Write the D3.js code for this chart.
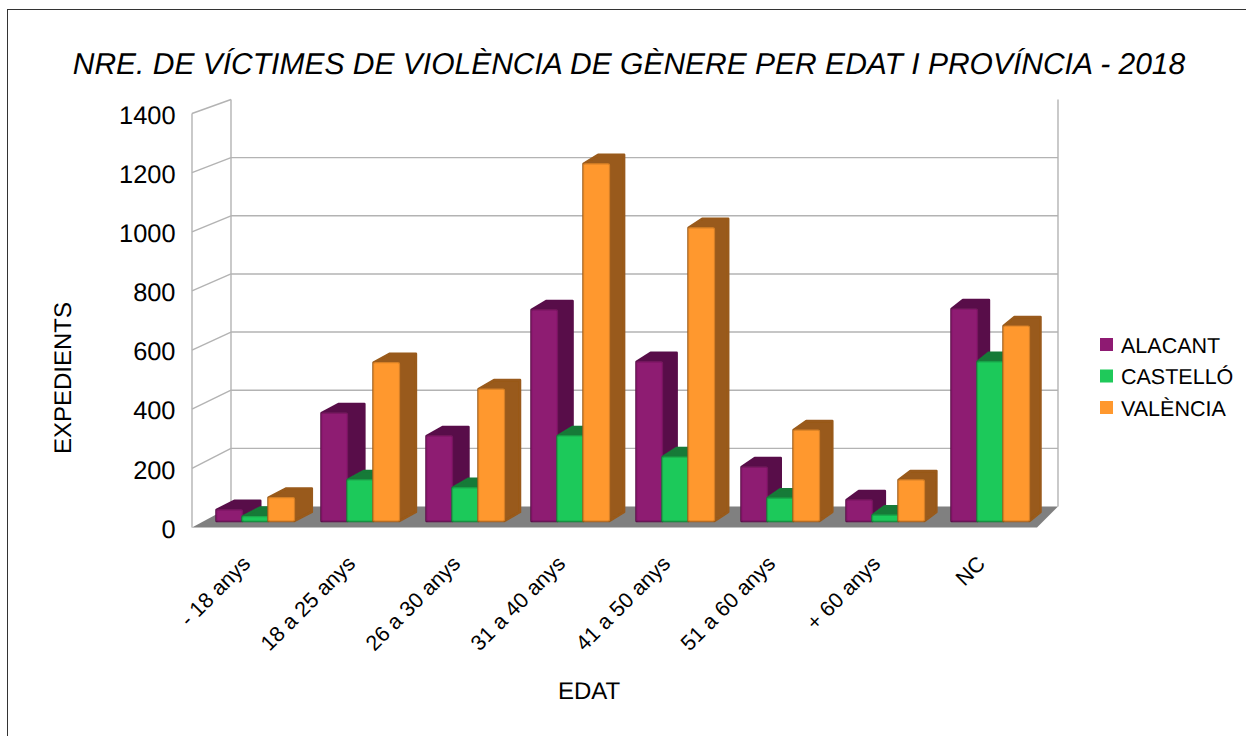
<!DOCTYPE html>
<html>
<head>
<meta charset="utf-8">
<script src="https://cdn.jsdelivr.net/npm/d3@7/dist/d3.min.js"></script>
<style>
  html, body { margin: 0; padding: 0; background: #fff; overflow: hidden; }
  text { font-family: "Liberation Sans", Arial, sans-serif; fill: #000; text-rendering: geometricPrecision; }
</style>
</head>
<body>
<div id="chart"></div>
<script>
const categories = ["- 18 anys", "18 a 25 anys", "26 a 30 anys", "31 a 40 anys", "41 a 50 anys", "51 a 60 anys", "+ 60 anys", "NC"];
const seriesNames = ["ALACANT", "CASTELLÓ", "VALÈNCIA"];
const alacant = [38, 368, 290, 720, 543, 184, 72, 723];
const castello = [15, 140, 113, 290, 218, 78, 20, 543];
const valencia = [80, 540, 450, 1218, 1000, 310, 140, 665];
const yTicks = [0, 200, 400, 600, 800, 1000, 1200, 1400];

const frontColors = ["#8e1a72", "#1fc95a", "#ff982e"];
const darkColors = ["#59114a", "#137a37", "#995a1a"];

const width = 1246;
const height = 736;
const seriesValues = [alacant, castello, valencia];

const svg = d3.select("#chart").append("svg")
    .attr("width", width)
    .attr("height", height)
    .style("display", "block");

const defs = svg.append("defs");
defs.append("filter").attr("id", "soft")
    .append("feGaussianBlur").attr("stdDeviation", 0.5);

// page frame
svg.append("rect")
    .attr("x", 7.5).attr("y", 9.5)
    .attr("width", width + 20).attr("height", height + 20)
    .attr("fill", "#fff").attr("stroke", "#333").attr("stroke-width", 1);

// scales: front edge of the box, back wall, and the plane the bars stand on
const yFront = d3.scaleLinear().domain([0, 1400]).range([527.5, 113.5]);
const yBack = d3.scaleLinear().domain([0, 1400]).range([506.5, 99.5]);
const yBar = d3.scaleLinear().domain([0, 1400]).range([521, 110.5]);

const x0 = d3.scaleBand().domain(categories).range([190.5, 1030.5]);
const x1 = d3.scaleBand().domain(seriesNames).range([26, 26 + 78]);
const depthX = d3.scaleLinear().domain([216, 1029]).range([18, 11]);
const depthY = 9;

const grid = svg.append("g").attr("fill", "none").attr("stroke", "#b3b3b3").attr("stroke-width", 1.4);

// floor
svg.append("path")
    .attr("d", "M192,527.5L231,506.5L1058,506.5L1037,527.5Z")
    .attr("fill", "#808080");

// back wall lines and side wall diagonals
grid.selectAll(".back")
    .data(yTicks.slice(1, -1))
    .enter().append("line")
    .attr("x1", 231).attr("x2", 1058)
    .attr("y1", d => yBack(d)).attr("y2", d => yBack(d));

grid.selectAll(".side")
    .data(yTicks.slice(1))
    .enter().append("line")
    .attr("x1", 192).attr("x2", 231)
    .attr("y1", d => yFront(d)).attr("y2", d => yBack(d));

grid.append("line").attr("x1", 192).attr("x2", 192).attr("y1", yFront(1400)).attr("y2", yFront(0));
grid.append("line").attr("x1", 231).attr("x2", 231).attr("y1", yBack(1400)).attr("y2", yBack(0));
grid.append("line").attr("x1", 1058).attr("x2", 1058).attr("y1", yBack(1400)).attr("y2", yBack(0));

// bars, drawn left to right so each front covers the previous side
const bars = svg.append("g").attr("filter", "url(#soft)");
categories.forEach((cat, i) => {
    seriesNames.forEach((name, s) => {
        const left = x0(cat) + x1(name);
        const w = x1.bandwidth();
        const top = yBar(seriesValues[s][i]);
        const base = yBar(0);
        const dx = depthX(left + w);
        const g = bars.append("g");
        g.append("path")
            .attr("d", `M${left},${top}L${left + dx},${top - depthY}L${left + w + dx},${top - depthY}L${left + w + dx},${base - depthY}L${left + w},${base}L${left},${base}Z`)
            .attr("fill", darkColors[s])
            .attr("stroke", darkColors[s])
            .attr("stroke-width", 2.5)
            .attr("stroke-linejoin", "round");
        g.append("rect")
            .attr("x", left).attr("y", top)
            .attr("width", w).attr("height", base - top)
            .attr("rx", 1.5)
            .attr("fill", frontColors[s])
            .attr("stroke", d3.color(frontColors[s]).darker(0.5))
            .attr("stroke-width", 1.2);
    });
});

// y axis labels
const yAxis = svg.append("g")
    .attr("transform", "translate(175.5,0.5)")
    .call(d3.axisLeft(yFront).tickValues(yTicks).tickSize(0).tickPadding(0).tickFormat(d3.format("d")));
yAxis.select(".domain").remove();
yAxis.selectAll("text").style("font-size", "25.4px").attr("fill", "#000").attr("dy", "0.36em");

// x axis labels, rotated
svg.selectAll(".xlabel")
    .data(categories)
    .enter().append("text")
    .attr("class", "xlabel")
    .attr("text-anchor", "end")
    .style("font-size", "21.5px")
    .attr("transform", d => `translate(${x0(d) + 61},${565}) rotate(-45)`)
    .text(d => d);

// titles
svg.append("text")
    .attr("x", 629).attr("y", 74)
    .attr("text-anchor", "middle")
    .style("font-size", "30px")
    .style("font-style", "italic")
    .text("NRE. DE VÍCTIMES DE VIOLÈNCIA DE GÈNERE PER EDAT I PROVÍNCIA - 2018");

svg.append("text")
    .attr("x", 589).attr("y", 699)
    .attr("text-anchor", "middle")
    .style("font-size", "24px")
    .text("EDAT");

svg.append("text")
    .attr("transform", "translate(71,378) rotate(-90)")
    .attr("text-anchor", "middle")
    .style("font-size", "24px")
    .text("EXPEDIENTS");

// legend
const legend = svg.selectAll(".legend")
    .data(seriesNames)
    .enter().append("g")
    .attr("class", "legend")
    .attr("transform", (d, i) => `translate(1100,${338 + i * 31.5})`);
legend.append("rect")
    .attr("width", 13).attr("height", 13)
    .attr("fill", (d, i) => frontColors[i]);
legend.append("text")
    .attr("x", 21).attr("y", 14.5)
    .style("font-size", "21.5px")
    .text(d => d);
</script>
</body>
</html>
